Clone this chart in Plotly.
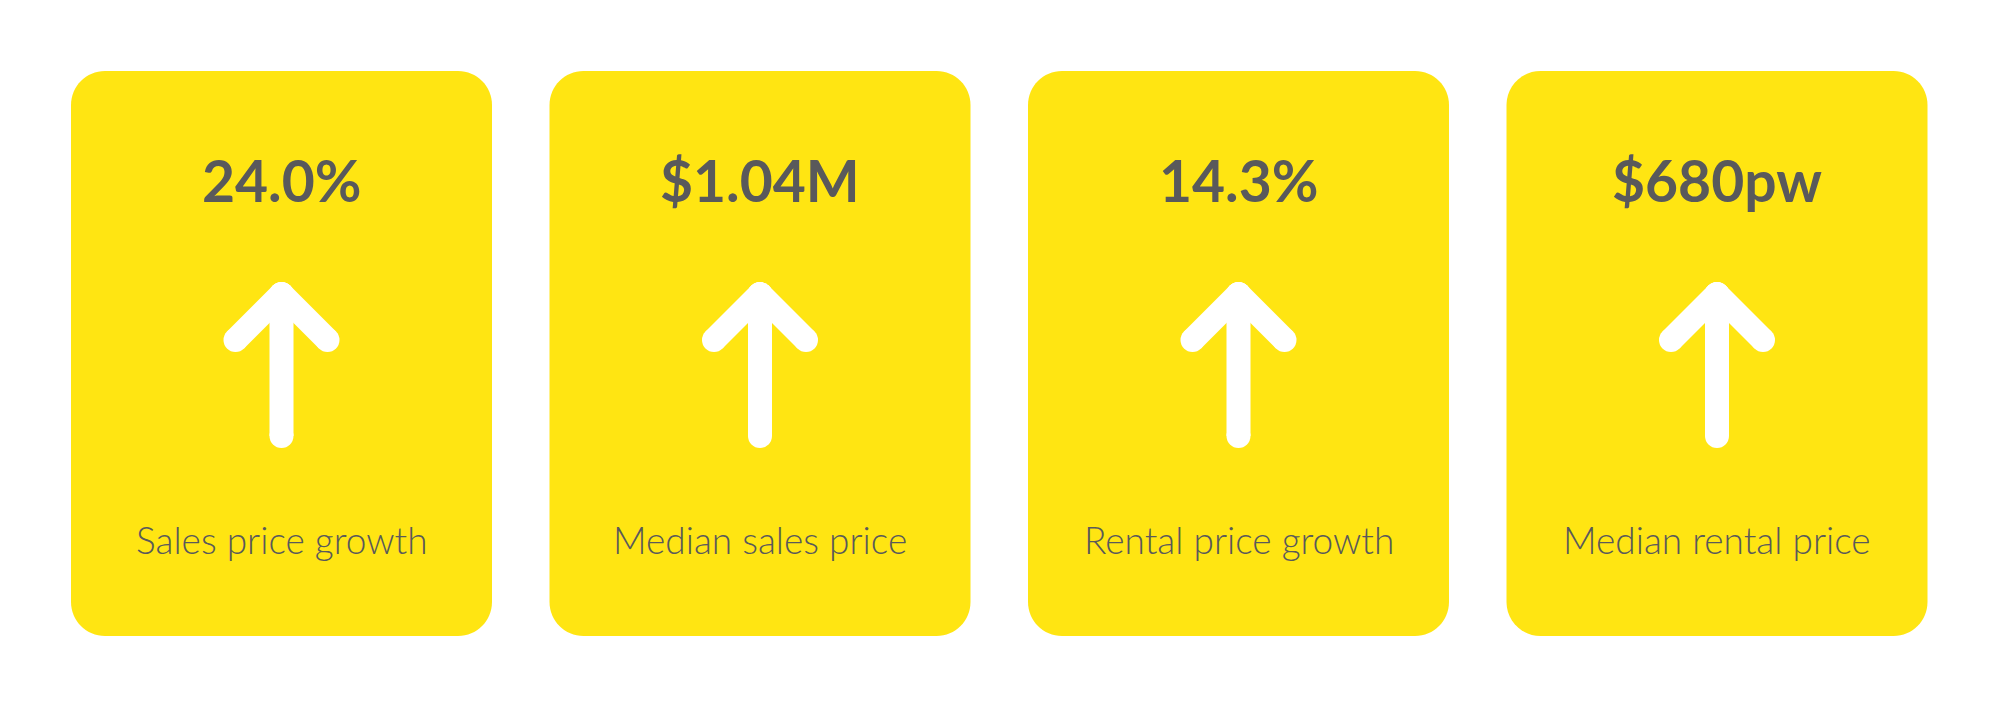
import plotly.graph_objects as go

# card contents
values = ["24.0%", "$1.04M", "14.3%", "$680pw"]
labels = ["Sales price growth", "Median sales price", "Rental price growth", "Median rental price"]

W, H = 2000, 707
card_w, card_top, card_bot = 421, 71, 636
first_x, pitch = 71, 478.5
radius = 34

yellow = "#FFE512"
grey = "#59595B"


def rounded_rect(x0, y0, x1, y1, r):
    k = 0.5523 * r
    return (f"M {x0 + r},{y0} L {x1 - r},{y0} "
            f"C {x1 - r + k},{y0} {x1},{y0 + r - k} {x1},{y0 + r} "
            f"L {x1},{y1 - r} "
            f"C {x1},{y1 - r + k} {x1 - r + k},{y1} {x1 - r},{y1} "
            f"L {x0 + r},{y1} "
            f"C {x0 + r - k},{y1} {x0},{y1 - r + k} {x0},{y1 - r} "
            f"L {x0},{y0 + r} "
            f"C {x0},{y0 + r - k} {x0 + r - k},{y0} {x0 + r},{y0} Z")


fig = go.Figure()
shapes = []
annotations = []

for i, (val, lab) in enumerate(zip(values, labels)):
    x0 = first_x + i * pitch
    cx = x0 + card_w / 2
    shapes.append(dict(type="path", path=rounded_rect(x0, card_top, x0 + card_w, card_bot, radius),
                       fillcolor=yellow, line=dict(width=0), layer="below"))

    # up arrow: two head strokes + shaft, round ends/joins from markers
    fig.add_trace(go.Scatter(
        x=[cx - 46, cx, None, cx, cx + 46, None, cx, cx],
        y=[340, 294, None, 294, 340, None, 294, 436],
        mode="lines+markers",
        line=dict(color="white", width=24),
        marker=dict(color="white", size=24, line=dict(width=0)),
        hoverinfo="skip", showlegend=False,
    ))

    annotations.append(dict(x=cx, y=180, text=val, showarrow=False, xanchor="center", yanchor="middle",
                            font=dict(family="Lato", size=57, color=grey, weight=700)))
    annotations.append(dict(x=cx, y=539, text=lab, showarrow=False, xanchor="center", yanchor="middle",
                            font=dict(family="Lato Light, Lato", size=37, color=grey, weight=300)))

fig.update_layout(
    width=W, height=H,
    margin=dict(l=0, r=0, t=0, b=0),
    paper_bgcolor="white", plot_bgcolor="white",
    xaxis=dict(range=[0, W], visible=False, fixedrange=True),
    yaxis=dict(range=[H, 0], visible=False, fixedrange=True),
    shapes=shapes, annotations=annotations,
)

fig.write_html("out.html", config={"displayModeBar": False},
               post_script="document.body.style.margin='0';")
